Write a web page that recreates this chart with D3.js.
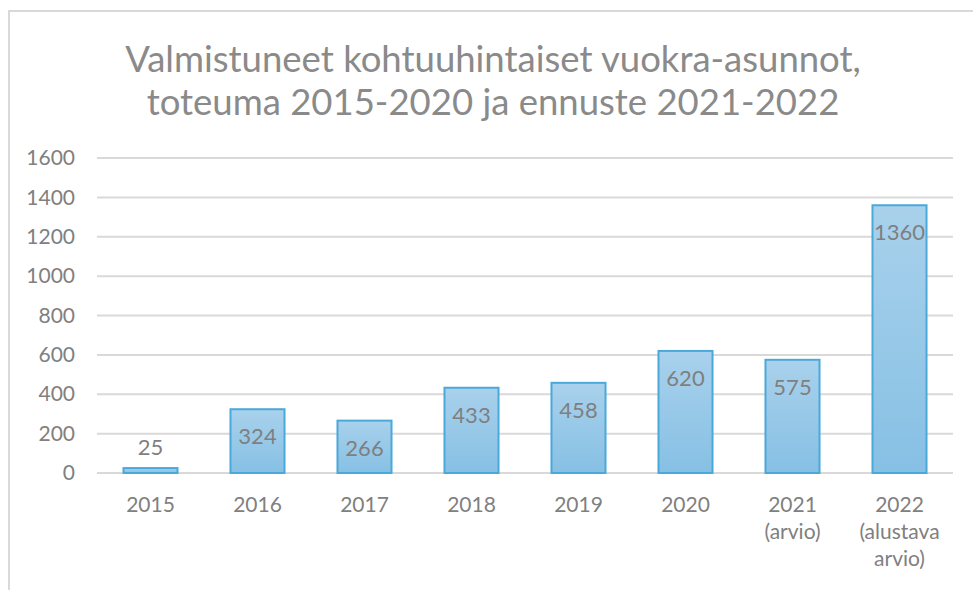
<!DOCTYPE html>
<html>
<head>
<meta charset="utf-8">
<script src="https://cdn.jsdelivr.net/npm/d3@7"></script>
<style>
  body { margin: 0; background: #fff; }
  svg text { font-family: Lato, "Open Sans", sans-serif; }
</style>
</head>
<body>
<div id="chart"></div>
<script>
// chart data
const titleLines = ["Valmistuneet kohtuuhintaiset vuokra-asunnot,", "toteuma 2015-2020 ja ennuste 2021-2022"];
const categories = [["2015"], ["2016"], ["2017"], ["2018"], ["2019"], ["2020"], ["2021", "(arvio)"], ["2022", "(alustava", "arvio)"]];
const values = [25, 324, 266, 433, 458, 620, 575, 1360];
const yTicks = [0, 200, 400, 600, 800, 1000, 1200, 1400, 1600];

const width = 973, height = 590;

const svg = d3.select("#chart").append("svg")
    .attr("width", width)
    .attr("height", height);

// frame
svg.append("path")
    .attr("d", `M9,${height} V11 H${width}`)
    .attr("fill", "none")
    .attr("stroke", "#d9d9d9")
    .attr("stroke-width", 2);

// title
svg.append("text")
    .attr("text-anchor", "middle")
    .attr("fill", "#8a8a8a")
    .style("font-size", "36.5px")
    .selectAll("tspan")
    .data(titleLines)
    .enter().append("tspan")
    .attr("x", 493)
    .attr("y", (d, i) => 72 + i * 43)
    .text(d => d);

let x = d3.scaleBand()
    .domain(categories.map(d => d[0]))
    .range([97, 953])
    .paddingInner(0.495)
    .paddingOuter(0.2475);

let y = d3.scaleLinear()
    .domain([0, 1600])
    .range([473, 158]);

// gridlines
svg.append("g")
    .selectAll("line")
    .data(yTicks)
    .enter().append("line")
    .attr("x1", 97)
    .attr("x2", 953)
    .attr("y1", d => y(d))
    .attr("y2", d => y(d))
    .attr("stroke", "#d9d9d9")
    .attr("stroke-width", 2);

// y axis labels
let yAxis = d3.axisLeft(y).tickValues(yTicks).tickFormat(d3.format("d")).tickSize(0).tickPadding(22);
svg.append("g")
    .attr("transform", "translate(97,0)")
    .call(yAxis)
    .call(g => g.select(".domain").remove())
    .selectAll("text")
    .attr("fill", "#808080")
    .style("font-size", "21px");

// gradient for bars
let grad = svg.append("defs").append("linearGradient")
    .attr("id", "barGrad")
    .attr("x1", "0%").attr("y1", "0%")
    .attr("x2", "0%").attr("y2", "100%");
grad.append("stop").attr("offset", "0%").attr("stop-color", "#a9d1ec");
grad.append("stop").attr("offset", "100%").attr("stop-color", "#86c0e4");

// bars
svg.append("g")
    .selectAll("rect")
    .data(values)
    .enter().append("rect")
    .attr("x", (d, i) => x(categories[i][0]))
    .attr("y", d => y(d))
    .attr("width", x.bandwidth())
    .attr("height", d => y(0) - y(d))
    .attr("fill", "url(#barGrad)")
    .attr("stroke", "#4ba9da")
    .attr("stroke-width", 2);

// value labels
svg.append("g")
    .selectAll("text")
    .data(values)
    .enter().append("text")
    .attr("x", (d, i) => x(categories[i][0]) + x.bandwidth() / 2)
    .attr("y", d => (y(0) - y(d) < 40) ? y(d) - 13 : y(d) + 35)
    .attr("text-anchor", "middle")
    .attr("fill", "#7f7f7f")
    .style("font-size", "22px")
    .text(d => d);

// x labels
let xl = svg.append("g")
    .selectAll("text")
    .data(categories)
    .enter().append("text")
    .attr("text-anchor", "middle")
    .attr("fill", "#808080")
    .style("font-size", "21px");
xl.selectAll("tspan")
    .data(d => d.map(t => ({t, c: d[0]})))
    .enter().append("tspan")
    .attr("x", d => x(d.c) + x.bandwidth() / 2)
    .attr("y", (d, i) => 512 + i * 27)
    .text(d => d.t);
</script>
</body>
</html>
